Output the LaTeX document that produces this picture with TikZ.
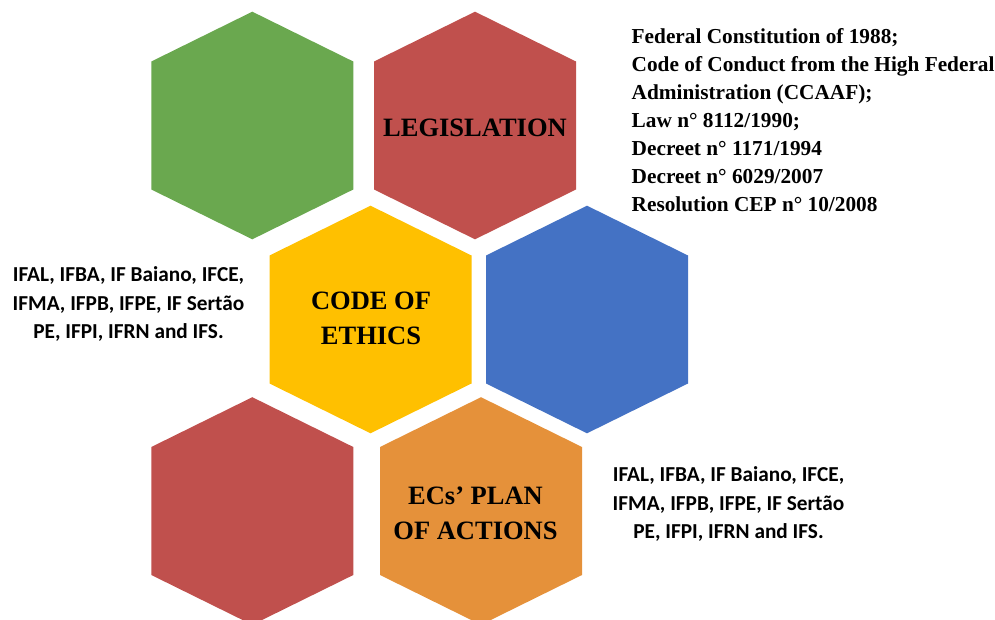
\documentclass[tikz,border=0pt]{standalone}
\usepackage{fontspec}
\setmainfont{Liberation Serif}
\newfontfamily\calib{Carlito}
\definecolor{hgreen}{RGB}{106,168,79}
\definecolor{hred}{RGB}{192,80,77}
\definecolor{hyellow}{RGB}{255,192,0}
\definecolor{hblue}{RGB}{68,114,196}
\definecolor{horange}{RGB}{229,145,58}
\begin{document}
\begin{tikzpicture}[x=1pt,y=-1pt,
  hexa/.pic={\fill[#1] (0,-113.8) -- (101,-64) -- (101,64) -- (0,113.8) -- (-101,64) -- (-101,-64) -- cycle;},
  hexlabel/.style={font=\fontsize{26.5}{35}\selectfont\bfseries, align=center, text=black, inner sep=0pt},
  lawtext/.style={font=\fontsize{21.3}{28}\selectfont\bfseries, align=left, inner sep=0pt},
  instext/.style={font=\calib\bfseries\fontsize{21.3}{28.8}\selectfont, align=center, inner sep=0pt}]
\useasboundingbox (0,0) rectangle (995,620);
\begin{scope}
\clip (0,0) rectangle (995,620);
\pic at (252.3,125.5) {hexa=hgreen};
\pic at (475,125.5) {hexa=hred};
\pic at (370.5,319.5) {hexa=hyellow};
\pic at (587,319.5) {hexa=hblue};
\pic at (252.3,511) {hexa=hred};
\pic at (481,511) {hexa=horange};
\end{scope}
\node[hexlabel] (leg) at (475,127.5) {LEGISLATION};
\node[hexlabel] (coe) at (371,318.5) {CODE OF\\ETHICS};
\node[hexlabel] (plan) at (475.5,513) {ECs’ PLAN\\OF ACTIONS};
\node[lawtext, anchor=north west] (laws) at (631.5,28) {Federal Constitution of 1988;\\Code of Conduct from the High Federal\\Administration (CCAAF);\\Law n° 8112/1990;\\Decreet n° 1171/1994\\Decreet n° 6029/2007\\Resolution CEP n° 10/2008};
\node[instext] (insl) at (128.5,304) {IFAL, IFBA, IF Baiano, IFCE,\\IFMA, IFPB, IFPE, IF Sertão\\PE, IFPI, IFRN and IFS.};
\node[instext] (insr) at (728.5,504) {IFAL, IFBA, IF Baiano, IFCE,\\IFMA, IFPB, IFPE, IF Sertão\\PE, IFPI, IFRN and IFS.};
\end{tikzpicture}
\end{document}
